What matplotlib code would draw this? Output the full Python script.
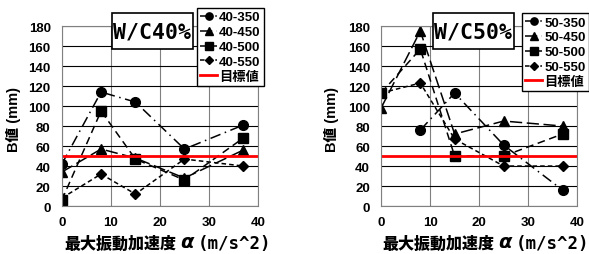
import matplotlib
matplotlib.use("Agg")
import matplotlib.pyplot as plt
from matplotlib.font_manager import FontProperties
from matplotlib.patches import Rectangle
import numpy as np

plt.rcParams['font.family'] = ['Liberation Sans', 'Noto Sans CJK JP', 'DejaVu Sans']
plt.rcParams['font.weight'] = 'bold'

# 最大振動加速度 (m/s^2)
accel = [0, 8, 15, 25, 37]

# W/C40%
names_40 = ['40-350', '40-450', '40-500', '40-550']
b_40_350 = [42, 114, 104, 57, 81]
b_40_450 = [34, 57, 48, 28, 56]
b_40_500 = [6, 95, 47, 26, 68]
b_40_550 = [8, 32, 12, 47, 40]

# W/C50%
names_50 = ['50-350', '50-450', '50-500', '50-550']
b_50_350 = [np.nan, 76, 113, 61, 16]
b_50_450 = [98, 175, 72, 85, 80]
b_50_500 = [113, 157, 50, 50, 72]
b_50_550 = [113, 123, 67, 40, 40]

target = 50
target_label = '目標値'

markers = ['o', '^', 's', 'D']
msizes = [7, 7, 7, 5.5]
styles = [(0, (7, 3, 1, 3)), (0, (8, 3)), (0, (5, 3)), (0, (3, 2))]

fig = plt.figure(figsize=(5.89, 2.55), dpi=100)
ax1 = fig.add_axes([0.105, 0.188, 0.333, 0.706])
ax2 = fig.add_axes([0.647, 0.188, 0.333, 0.706])

leg_font = FontProperties(family=['Liberation Sans', 'Noto Sans CJK JP'],
                          weight='bold', size=9.5)


def draw(ax, series, names, title, leg_xy, box_x, ylab_x, xlab_x):
    for y, n, m, ms, ls in zip(series, names, markers, msizes, styles):
        ax.plot(accel, y, color='black', linestyle=ls, linewidth=1.1,
                marker=m, markersize=ms, label=n)
    ax.axhline(target, color='red', linewidth=2, label=target_label)
    ax.set_xlim(0, 40)
    ax.set_ylim(0, 180)
    ax.set_xticks(range(0, 41, 10))
    ax.set_yticks(range(0, 181, 20))
    ax.tick_params(length=0, labelsize=9.5)
    ax.tick_params(axis='x', pad=7)
    ax.tick_params(axis='y', pad=8)
    ax.grid(axis='y', color='black', linewidth=0.8)
    ax.grid(axis='x', color='#808080', linewidth=0.8)
    ax.set_axisbelow(True)
    for s in ax.spines.values():
        s.set_color('#808080')
    leg = ax.legend(loc='upper left', bbox_to_anchor=leg_xy,
                    bbox_transform=fig.transFigure, fancybox=False,
                    edgecolor='black', framealpha=1, prop=leg_font,
                    markerscale=0.75,
                    handlelength=1.3, handletextpad=0.15, labelspacing=0.2,
                    borderpad=0.25, borderaxespad=0)
    leg.get_frame().set_linewidth(1.0)
    # title box
    fig.patches.append(Rectangle((box_x, 0.804), 0.1375, 0.141,
                                 transform=fig.transFigure, fc='white',
                                 ec='black', lw=1.2, zorder=2))
    fig.text(box_x + 0.0688, 0.874, title, ha='center', va='center',
             fontsize=15.5, family='DejaVu Sans Mono', weight='bold', zorder=3)
    fig.text(ylab_x, 0.53, 'B値 (mm)', rotation=90, ha='center', va='center',
             fontsize=10.5, weight='heavy')
    fig.text(xlab_x, 0.045, '最大振動加速度', ha='left', va='center',
             fontsize=11.5, weight='heavy', family='Noto Sans CJK JP')
    fig.text(xlab_x + 0.195, 0.045, r'$\alpha$', ha='left', va='center',
             fontsize=14)
    fig.text(xlab_x + 0.225, 0.045, '(m/s^2)', ha='left', va='center',
             fontsize=12.5, weight='bold', family='DejaVu Sans Mono')


draw(ax1, [b_40_350, b_40_450, b_40_500, b_40_550], names_40, 'W/C40%',
     (0.334, 0.965), 0.190, 0.022, 0.110)
draw(ax2, [b_50_350, b_50_450, b_50_500, b_50_550], names_50, 'W/C50%',
     (0.886, 0.945), 0.735, 0.563, 0.650)

fig.savefig('out.png', dpi=100)
